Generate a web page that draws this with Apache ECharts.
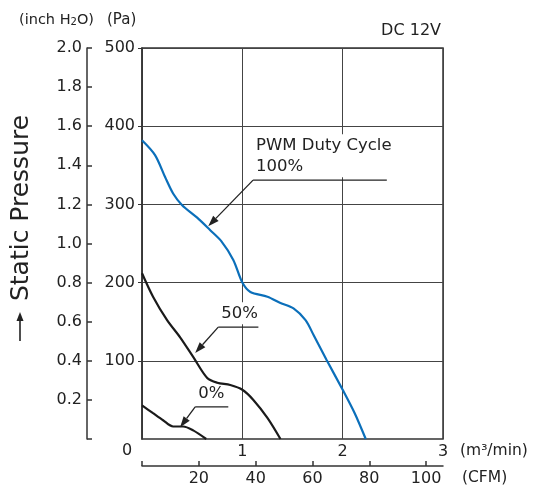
<!DOCTYPE html>
<html><head><meta charset="utf-8">
<script src="https://cdn.jsdelivr.net/npm/echarts@6/dist/echarts.min.js"></script>
<style>html,body{margin:0;padding:0;background:#fff}#c{width:538px;height:492px}</style>
</head><body><div id="c"></div>
<script>
// ---- data ----
const flowTicks = [0, 1, 2, 3];            // m3/min
const paTicks = [100, 200, 300, 400, 500];  // Pa
const inchTicks = [0.2, 0.4, 0.6, 0.8, 1.0, 1.2, 1.4, 1.6, 1.8, 2.0];
const cfmTicks = [0, 20, 40, 60, 80, 100];
const cfmLabels = [20, 40, 60, 80, 100];
const CFM_PER_M3MIN = 35.3147;

const duty100 = [[0,382],[0.13,363],[0.23,335],[0.31,314],[0.40,299],[0.55,283],[0.68,267],[0.79,253],[0.91,229],[1.0,200],[1.08,188],[1.25,182],[1.38,174],[1.51,167],[1.63,152],[1.71,133],[1.84,101],[2.0,63],[2.12,33],[2.23,0]];
const duty50 = [[0,212],[0.11,182],[0.25,152],[0.38,130],[0.51,105],[0.65,78],[0.75,72],[0.88,69],[1.0,63],[1.11,50],[1.25,27],[1.38,0]];
const duty0 = [[0,43],[0.11,33],[0.21,24],[0.31,16],[0.41,16],[0.51,11],[0.64,0]];

const annotations = [
  {text: 'PWM Duty Cycle\n100%', from: [1.107, 331], to: [2.44, 331], tip: [0.66, 272]},
  {text: '50%', from: [0.76, 143], to: [1.16, 143], tip: [0.53, 110]},
  {text: '0%', from: [0.53, 41], to: [0.86, 41], tip: [0.38, 15]}
];

const FONT = 'DejaVu Sans';
const TXT = '#222';
const chart = echarts.init(document.getElementById('c'), null, {renderer: 'canvas'});

const option = {
  animation: false,
  backgroundColor: '#fff',
  grid: {left: 142, top: 48, right: 95, bottom: 53, show: true, borderColor: '#333', borderWidth: 1.5, containLabel: false},
  xAxis: [
    {type: 'value', min: 0, max: 3, interval: 1, position: 'bottom',
     axisLine: {show: false, onZero: false}, axisTick: {show: false},
     splitLine: {show: true, lineStyle: {color: '#444', width: 1}},
     axisLabel: {margin: 5, color: TXT, fontFamily: FONT, fontSize: 16,
       formatter: v => flowTicks.includes(v) && v !== 0 ? String(v) : ''}},
    {type: 'value', min: 0, max: 3 * CFM_PER_M3MIN, position: 'bottom', offset: 27,
     axisLine: {show: true, onZero: false, lineStyle: {color: '#333', width: 1.5}},
     axisTick: {show: true, inside: true, length: 5, customValues: cfmTicks, lineStyle: {color: '#333', width: 1.5}},
     splitLine: {show: false},
     axisLabel: {margin: 5, color: TXT, fontFamily: FONT, fontSize: 16, customValues: cfmLabels,
       formatter: v => String(v)}}
  ],
  yAxis: [
    {type: 'value', min: 0, max: 500, interval: 100, position: 'left',
     axisLine: {show: true, onZero: false, lineStyle: {color: '#333', width: 1.5}},
     axisTick: {show: true, length: 4, customValues: paTicks, lineStyle: {color: '#333'}},
     splitLine: {show: true, lineStyle: {color: '#444', width: 1}},
     axisLabel: {margin: 7, color: TXT, fontFamily: FONT, fontSize: 16, customValues: paTicks, formatter: v => String(v)}},
    {type: 'value', min: 0, max: 2.0, interval: 0.2, position: 'left', offset: 55,
     axisLine: {show: true, onZero: false, lineStyle: {color: '#333', width: 1.5}},
     axisTick: {show: true, inside: true, length: 5, lineStyle: {color: '#333', width: 1.5}},
     splitLine: {show: false},
     axisLabel: {margin: 5, color: TXT, fontFamily: FONT, fontSize: 16, customValues: inchTicks, formatter: v => v.toFixed(1)}}
  ],
  series: [
    {type: 'line', data: duty100, smooth: 0.3, showSymbol: false, xAxisIndex: 0, yAxisIndex: 0, z: 3,
     lineStyle: {color: '#0b6fba', width: 2.2}},
    {type: 'line', data: duty50, smooth: 0.3, showSymbol: false, xAxisIndex: 0, yAxisIndex: 0, z: 3,
     lineStyle: {color: '#1a1a1a', width: 2.2}},
    {type: 'line', data: duty0, smooth: 0.3, showSymbol: false, xAxisIndex: 0, yAxisIndex: 0, z: 3,
     lineStyle: {color: '#1a1a1a', width: 2.2}}
  ]
};
chart.setOption(option);

const px = p => chart.convertToPixel({xAxisIndex: 0, yAxisIndex: 0}, p);
const graphics = [];
const T = (text, x, y, extra, z) => ({type: 'text', x, y, z: z == null ? 100 : z,
  style: Object.assign({text, fill: TXT, font: '16px "' + FONT + '"', textAlign: 'left', textVerticalAlign: 'middle'}, extra || {})});

annotations.forEach(a => {
  const f = px(a.from), t = px(a.to), tip = px(a.tip);
  graphics.push({type: 'line', z: 90, shape: {x1: f[0], y1: f[1], x2: t[0], y2: t[1]}, style: {stroke: '#222', lineWidth: 1.3}});
  const dx = tip[0] - f[0], dy = tip[1] - f[1], L = Math.hypot(dx, dy);
  const ux = dx / L, uy = dy / L, hl = 11, hw = 3.8;
  const bx = tip[0] - ux * hl, by = tip[1] - uy * hl;
  graphics.push({type: 'line', z: 90, shape: {x1: f[0], y1: f[1], x2: bx, y2: by}, style: {stroke: '#222', lineWidth: 1.3}});
  graphics.push({type: 'polygon', z: 90, shape: {points: [tip, [bx - uy * hw, by + ux * hw], [bx + uy * hw, by - ux * hw]]}, style: {fill: '#222'}});
  // text with a white box (drawn under the curves, over the grid lines)
  graphics.push(T(a.text, f[0] + 2, f[1] - 3, {textVerticalAlign: 'bottom', font: '16.5px "' + FONT + '"', lineHeight: 21, backgroundColor: '#fff', padding: [1, 3, 0, 1]}, 1));
});

graphics.push(T('(inch H{s|2}O)', 19, 20, {font: '14.5px "' + FONT + '"', rich: {s: {fontSize: 10, fontFamily: FONT, fill: TXT, verticalAlign: 'bottom', padding: [4, 0, 0, 0]}}}));
graphics.push(T('(Pa)', 107, 20, {font: '15px "' + FONT + '"'}));
graphics.push(T('DC 12V', 441, 31, {textAlign: 'right'}));
graphics.push(T('0', 127, 451, {textAlign: 'center'}));
graphics.push(T('(m\u00B3/min)', 460, 451, {font: '15.5px "' + FONT + '"'}));
graphics.push(T('(CFM)', 462, 478, {font: '15.5px "' + FONT + '"'}));
const title = T('Static Pressure', 21, 208, {textAlign: 'center', font: '25px "' + FONT + '"'});
title.rotation = Math.PI / 2;
graphics.push(title);
// arrow before the axis title
graphics.push({type: 'line', shape: {x1: 20, y1: 341, x2: 20, y2: 320}, style: {stroke: '#222', lineWidth: 1.6}});
graphics.push({type: 'polygon', shape: {points: [[20, 312], [16.5, 321], [23.5, 321]]}, style: {fill: '#222'}});

chart.setOption({graphic: graphics});
</script></body></html>
